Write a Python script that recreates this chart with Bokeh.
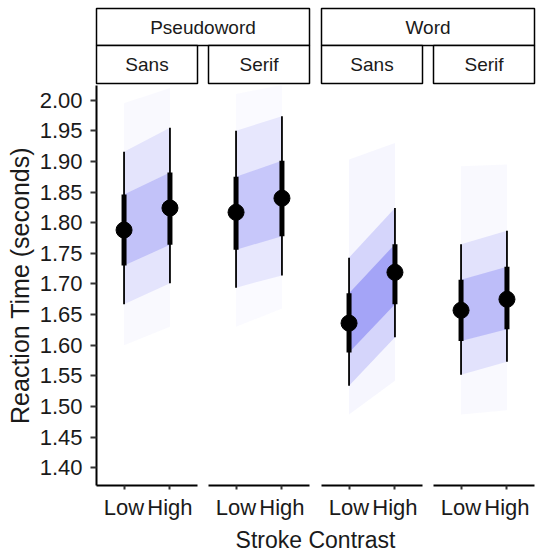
import math
from bokeh.plotting import figure
from bokeh.layouts import column, row
from bokeh.models import FactorRange, Range1d, FixedTicker, PrintfTickFormatter
from bokeh.embed import file_html
from bokeh.resources import INLINE
from bokeh.core.properties import value

# ---------------- data ----------------
word_types = ["Pseudoword", "Word"]
font_styles = ["Sans", "Serif"]
contrast_levels = ["Low", "High"]

# panels in order: Pseudoword/Sans, Pseudoword/Serif, Word/Sans, Word/Serif
# each entry: [Low, High]
median = [[1.788, 1.824], [1.817, 1.840], [1.636, 1.719], [1.657, 1.675]]
ci66_lo = [[1.730, 1.764], [1.756, 1.778], [1.588, 1.667], [1.607, 1.626]]
ci66_hi = [[1.846, 1.882], [1.875, 1.901], [1.685, 1.765], [1.707, 1.728]]
ci95_lo = [[1.667, 1.701], [1.694, 1.714], [1.534, 1.613], [1.552, 1.573]]
ci95_hi = [[1.916, 1.955], [1.950, 1.974], [1.743, 1.824], [1.765, 1.787]]
draw_min = [[1.600, 1.630], [1.630, 1.660], [1.487, 1.542], [1.487, 1.494]]
draw_max = [[1.995, 2.020], [2.010, 2.025], [1.903, 1.930], [1.892, 1.895]]

y_ticks = [1.40, 1.45, 1.50, 1.55, 1.60, 1.65, 1.70, 1.75, 1.80, 1.85, 1.90, 1.95, 2.00]

x_title = "Stroke Contrast"
y_title = "Reaction Time (seconds)"

# ---------------- style / layout ----------------
FONT = "Liberation Sans"
TXT = "#1a1a1a"
BAND_COLOR = "#5b5bf0"
FRAME_W, FRAME_H = 101, 404
LEFT = 96
BOTTOM = 33
GAPS = [11, 12, 11, 2]
STRIP_H = 85
TITLE_H = 34

panels = [(w, f) for w in word_types for f in font_styles]

yr = Range1d(1.371, 2.024)

# ink factor per panel (narrower / steeper bundles of lines look denser)
ink = []
for i in range(4):
    slope = (median[i][1] - median[i][0]) * (618.0 / 46.0)
    width = ((ci66_hi[i][0] - ci66_lo[i][0]) + (ci66_hi[i][1] - ci66_lo[i][1])) / 2
    ink.append(math.sqrt(1 + slope ** 2) / width)
ink = [k / ink[0] for k in ink]

figs = []
frame_lefts = []
xpos = 0
for i, (w, f) in enumerate(panels):
    first = i == 0
    left = LEFT if first else 0
    p = figure(
        width=left + FRAME_W + GAPS[i], height=FRAME_H + BOTTOM,
        x_range=FactorRange(factors=contrast_levels, range_padding=0.1,
                            range_padding_units="absolute"),
        y_range=yr,
        y_axis_location="left" if first else None,
        toolbar_location=None, output_backend="svg",
        min_border_left=left, min_border_right=GAPS[i],
        min_border_top=0, min_border_bottom=BOTTOM,
    )
    frame_lefts.append(xpos + left)
    xpos += left + FRAME_W + GAPS[i]
    p.outline_line_color = None
    p.grid.visible = False
    p.background_fill_color = "white"
    p.border_fill_color = "white"

    k = ink[i]
    bands = [(draw_min, draw_max, 0.035), (ci95_lo, ci95_hi, 0.13), (ci66_lo, ci66_hi, 0.25)]
    for lo, hi, a in bands:
        p.patch(x=["Low", "High", "High", "Low"],
                y=[lo[i][0], lo[i][1], hi[i][1], hi[i][0]],
                fill_color=BAND_COLOR, fill_alpha=min(0.9, a * k), line_color=None)

    p.segment(x0=contrast_levels, y0=ci95_lo[i], x1=contrast_levels, y1=ci95_hi[i],
              line_color="black", line_width=1.8)
    p.segment(x0=contrast_levels, y0=ci66_lo[i], x1=contrast_levels, y1=ci66_hi[i],
              line_color="black", line_width=5)
    p.scatter(x=contrast_levels, y=median[i], size=16, marker="circle",
              fill_color="black", line_color="black")

    xa = p.xaxis[0]
    xa.axis_line_color = "black"
    xa.axis_line_width = 2
    xa.major_tick_out = 4
    xa.major_tick_in = 0
    xa.major_tick_line_color = "#333333"
    xa.major_tick_line_width = 2
    xa.minor_tick_line_color = None
    xa.major_label_text_font = FONT
    xa.major_label_text_font_size = "22px"
    xa.major_label_text_color = TXT
    xa.major_label_standoff = 5

    if first:
        ya = p.yaxis[0]
        ya.ticker = FixedTicker(ticks=y_ticks)
        ya.formatter = PrintfTickFormatter(format="%.2f")
        ya.axis_line_color = "black"
        ya.axis_line_width = 2
        ya.major_tick_out = 6
        ya.major_tick_in = 0
        ya.major_tick_line_color = "#333333"
        ya.major_tick_line_width = 2
        ya.minor_tick_line_color = None
        ya.major_label_text_font = FONT
        ya.major_label_text_font_size = "22px"
        ya.major_label_text_color = TXT
        ya.major_label_standoff = 8
        ya.axis_label = y_title
        ya.axis_label_text_font = FONT
        ya.axis_label_text_font_size = "25px"
        ya.axis_label_text_font_style = "normal"
        ya.axis_label_text_color = TXT
        ya.axis_label_standoff = 3
    figs.append(p)

TOTAL_W = xpos

# ---------------- facet strips ----------------
s = figure(width=TOTAL_W, height=STRIP_H, x_range=Range1d(0, TOTAL_W),
           y_range=Range1d(STRIP_H, 0), toolbar_location=None, output_backend="svg",
           x_axis_location=None, y_axis_location=None, min_border=0)
s.outline_line_color = None
s.grid.visible = False

outer_top, outer_bot, inner_bot = 8, 45, 83
for g, w in enumerate(word_types):
    l = frame_lefts[2 * g]
    r = frame_lefts[2 * g + 1] + FRAME_W
    s.quad(left=l, right=r, top=outer_top, bottom=outer_bot, fill_color="white",
           line_color="black", line_width=1.5)
    s.text(x=[(l + r) / 2], y=[(outer_top + outer_bot) / 2], text=[w],
           text_font=value(FONT), text_font_size="19px", text_color=TXT,
           text_align="center", text_baseline="middle")
for i, (w, f) in enumerate(panels):
    l = frame_lefts[i]
    r = l + FRAME_W
    s.quad(left=l, right=r, top=outer_bot, bottom=inner_bot, fill_color="white",
           line_color="black", line_width=1.5)
    s.text(x=[(l + r) / 2], y=[(outer_bot + inner_bot) / 2], text=[f],
           text_font=value(FONT), text_font_size="19px", text_color=TXT,
           text_align="center", text_baseline="middle")

# ---------------- shared x title ----------------
t = figure(width=TOTAL_W, height=TITLE_H, x_range=Range1d(0, TOTAL_W),
           y_range=Range1d(TITLE_H, 0), toolbar_location=None, output_backend="svg",
           x_axis_location=None, y_axis_location=None, min_border=0)
t.outline_line_color = None
t.grid.visible = False
t.text(x=[(frame_lefts[0] + frame_lefts[-1] + FRAME_W) / 2], y=[TITLE_H / 2], text=[x_title],
       text_font=value(FONT), text_font_size="23px", text_color=TXT,
       text_align="center", text_baseline="middle")

layout = column(s, row(*figs), t)
open("out.html", "w").write(file_html(layout, INLINE))
